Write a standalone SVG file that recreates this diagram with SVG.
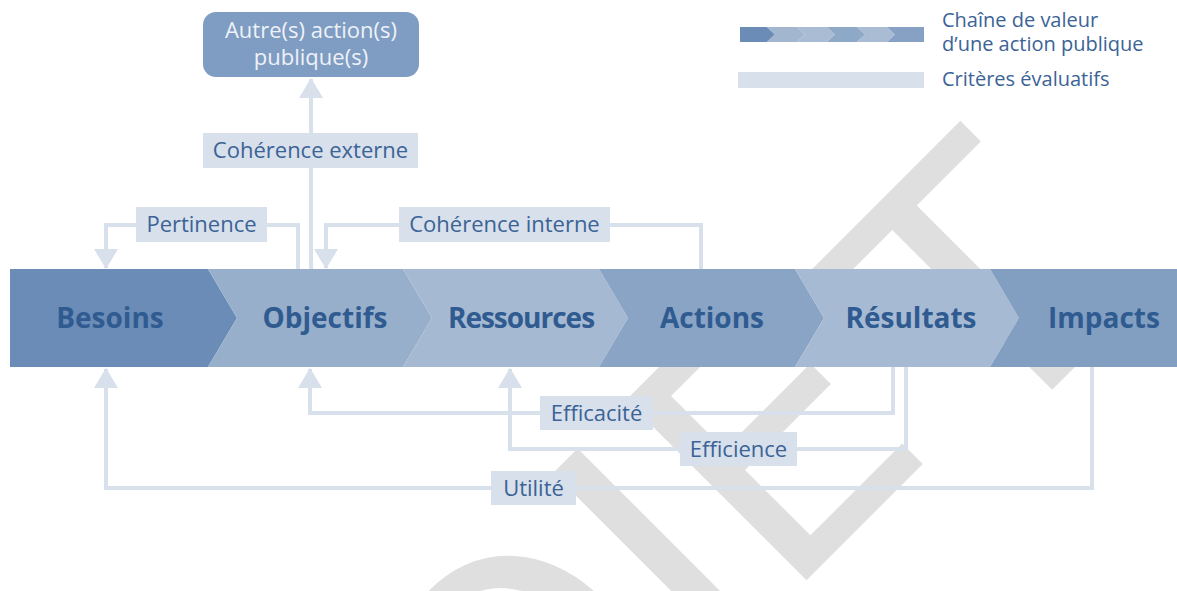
<svg xmlns="http://www.w3.org/2000/svg" width="1177" height="591" viewBox="0 0 1177 591">
  <defs>
    <style>
      .wm { font-family: "DejaVu Sans", sans-serif; font-size: 350px; fill: #dfdfdf; }
      .step { font-family: "Open Sans", "Noto Sans", sans-serif; font-weight: 700; font-size: 28px; fill: #2f5b90; text-anchor: middle; }
      .lbl { font-family: "Open Sans", "Noto Sans", sans-serif; font-size: 22px; fill: #3b6396; text-anchor: middle; }
      .leg { font-family: "Open Sans", "Noto Sans", sans-serif; font-size: 20px; fill: #3b6396; }
      .box { fill: #d7e0eb; }
      .link { fill: none; stroke: #d7e0eb; stroke-width: 4; }
      .node-text { font-family: "Open Sans", "Noto Sans", sans-serif; font-size: 22px; fill: #eef2f8; text-anchor: middle; }
    </style>
    <marker id="arrow" markerUnits="userSpaceOnUse" markerWidth="24" markerHeight="24" viewBox="0 0 20 24" refX="19" refY="12" orient="auto">
      <path d="M0,0 L20,12 L0,24 Z" fill="#d7e0eb"/>
    </marker>
  </defs>

  <rect width="1177" height="591" fill="#ffffff"/>

  <!-- draft watermark, behind the whole drawing -->
  <text class="wm" transform="translate(1140,302) rotate(-45)" text-anchor="end"><tspan dy="-39">PROJE</tspan><tspan dx="32" dy="39">T</tspan></text>

  <!-- value chain band -->
  <g id="chain">
    <g id="besoins">
      <polygon points="10,269 208,269 237,318 208,367 10,367" fill="#6b8cb6"/>
      <text class="step" x="110" y="328">Besoins</text>
    </g>
    <g id="objectifs">
      <polygon points="208,269 403,269 432,318 403,367 208,367 237,318" fill="#98afcc"/>
      <text class="step" x="325" y="328">Objectifs</text>
    </g>
    <g id="ressources">
      <polygon points="403,269 599,269 628,318 599,367 403,367 432,318" fill="#a6b9d2"/>
      <text class="step" x="521" y="328" letter-spacing="-1">Ressources</text>
    </g>
    <g id="actions">
      <polygon points="599,269 795,269 824,318 795,367 599,367 628,318" fill="#8aa4c5"/>
      <text class="step" x="712" y="328">Actions</text>
    </g>
    <g id="resultats">
      <polygon points="795,269 990,269 1019,318 990,367 795,367 824,318" fill="#a7bad3"/>
      <text class="step" x="911" y="328">Résultats</text>
    </g>
    <g id="impacts">
      <polygon points="990,269 1177,269 1177,367 990,367 1019,318" fill="#829fc2"/>
      <text class="step" x="1104" y="328">Impacts</text>
    </g>
  </g>

  <!-- evaluation criteria connectors -->
  <g id="connectors">
    <path class="link" d="M311,269 V79" marker-end="url(#arrow)"/>
    <path class="link" d="M298,269 V225 H106 V268" marker-end="url(#arrow)"/>
    <path class="link" d="M701,269 V225 H326 V268" marker-end="url(#arrow)"/>
    <path class="link" d="M893,367 V413 H310 V369" marker-end="url(#arrow)"/>
    <path class="link" d="M906,367 V449 H510 V369" marker-end="url(#arrow)"/>
    <path class="link" d="M1092,367 V488 H106 V369" marker-end="url(#arrow)"/>
  </g>

  <!-- other public action -->
  <g id="autres-actions">
    <rect x="203" y="12" width="216" height="65" rx="13" fill="#7f9cc2"/>
    <text class="node-text" x="311" y="38">Autre(s) action(s)</text>
    <text class="node-text" x="311" y="65">publique(s)</text>
  </g>

  <!-- criteria labels -->
  <g id="coherence-externe">
    <rect class="box" x="203" y="133" width="215" height="35"/>
    <text class="lbl" x="310.5" y="158">Cohérence externe</text>
  </g>
  <g id="pertinence">
    <rect class="box" x="136" y="207" width="131" height="35"/>
    <text class="lbl" x="201.5" y="232">Pertinence</text>
  </g>
  <g id="coherence-interne">
    <rect class="box" x="399" y="207" width="211" height="35"/>
    <text class="lbl" x="504.5" y="232">Cohérence interne</text>
  </g>
  <g id="efficacite">
    <rect class="box" x="540" y="396" width="113" height="34"/>
    <text class="lbl" x="596.5" y="420.5">Efficacité</text>
  </g>
  <g id="efficience">
    <rect class="box" x="680" y="432" width="117" height="34"/>
    <text class="lbl" x="738.5" y="456.5">Efficience</text>
  </g>
  <g id="utilite">
    <rect class="box" x="491" y="471" width="85" height="34"/>
    <text class="lbl" x="533.5" y="495.5">Utilité</text>
  </g>

  <!-- legend -->
  <g id="legend">
    <g id="legend-chain">
      <polygon points="740,27 767,27 775,34.5 767,42 740,42" fill="#6b8cb6"/>
      <polygon points="767,27 797,27 805,34.5 797,42 767,42 775,34.5" fill="#a2b6cf"/>
      <polygon points="797,27 827,27 835,34.5 827,42 797,42 805,34.5" fill="#a9bcd4"/>
      <polygon points="827,27 857,27 865,34.5 857,42 827,42 835,34.5" fill="#8ea8c8"/>
      <polygon points="857,27 887,27 895,34.5 887,42 857,42 865,34.5" fill="#a9bcd4"/>
      <polygon points="887,27 924,27 924,42 887,42 895,34.5" fill="#86a1c4"/>
      <text class="leg" x="942" y="27">Chaîne de valeur</text>
      <text class="leg" x="942" y="51">d’une action publique</text>
    </g>
    <g id="legend-criteria">
      <rect x="738" y="72" width="186" height="16" fill="#d7e0eb"/>
      <text class="leg" x="942" y="86">Critères évaluatifs</text>
    </g>
  </g>
</svg>
